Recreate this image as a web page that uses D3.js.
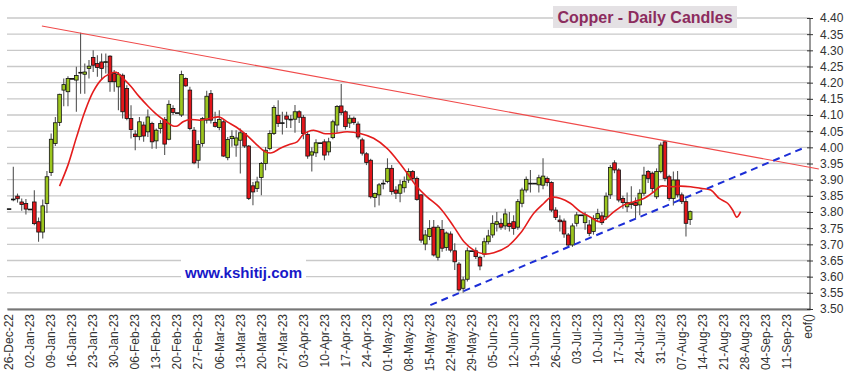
<!DOCTYPE html>
<html><head><meta charset="utf-8">
<script src="https://cdn.jsdelivr.net/npm/d3@7"></script>
<style>
body{margin:0;background:#fff;}
svg{display:block;font-family:"Liberation Sans",Arial,sans-serif;}
</style>
</head><body>
<svg id="chart" width="848" height="383"></svg>
<script>
// ---- data ----
const weekLabels = ["26-Dec-22","02-Jan-23","09-Jan-23","16-Jan-23","23-Jan-23","30-Jan-23","06-Feb-23","13-Feb-23","20-Feb-23","27-Feb-23","06-Mar-23","13-Mar-23","20-Mar-23","27-Mar-23","03-Apr-23","10-Apr-23","17-Apr-23","24-Apr-23","01-May-23","08-May-23","15-May-23","22-May-23","29-May-23","05-Jun-23","12-Jun-23","19-Jun-23","26-Jun-23","03-Jul-23","10-Jul-23","17-Jul-23","24-Jul-23","31-Jul-23","07-Aug-23","14-Aug-23","21-Aug-23","28-Aug-23","04-Sep-23","11-Sep-23"];
const endLabel = "eof()";
const daysPerWeek = 5;
const categoryCount = 191;

const open = [3.810,3.838,3.849,3.831,3.826,3.809,3.831,3.770,3.738,3.826,3.922,4.012,4.077,4.177,4.172,4.213,4.208,4.232,4.226,4.244,
4.278,4.259,4.264,4.264,4.282,4.228,4.187,4.223,4.182,4.089,4.041,4.033,4.069,4.048,4.074,4.020,4.058,4.086,4.025,4.120,
4.107,4.100,4.213,4.177,4.053,3.960,4.012,4.084,4.166,4.077,4.061,4.079,3.968,4.027,4.007,4.022,4.043,4.004,3.881,3.873,
3.907,3.950,3.996,4.043,4.099,4.076,4.097,4.087,4.087,4.110,4.093,4.040,3.976,3.983,4.014,4.017,3.986,4.030,4.069,4.128,
4.110,4.075,4.090,4.072,4.023,3.980,3.960,3.845,3.853,3.889,3.894,3.935,3.868,3.858,3.875,3.899,3.925,3.904,3.853,3.701,
3.724,3.753,3.660,3.746,3.690,3.732,3.680,3.639,3.564,3.592,3.680,3.680,3.660,3.670,3.708,3.729,3.762,3.765,3.757,3.765,
3.770,3.753,3.827,3.868,3.889,3.889,3.884,3.883,3.904,3.891,3.806,3.775,3.772,3.729,3.698,3.765,3.791,3.767,3.760,3.740,
3.780,3.788,3.785,3.853,3.952,3.930,3.842,3.816,3.823,3.829,3.822,3.858,3.925,3.920,3.847,3.925,4.017,3.909,3.842,3.899,
3.853,3.832,3.777];
const high = [3.810,3.940,3.857,3.842,3.840,3.809,3.867,3.783,3.839,3.927,4.043,4.094,4.166,4.213,4.220,4.213,4.249,4.354,4.259,4.270,
4.300,4.285,4.290,4.290,4.285,4.239,4.233,4.228,4.192,4.130,4.053,4.094,4.079,4.117,4.079,4.058,4.084,4.094,4.146,4.130,
4.107,4.237,4.216,4.187,4.063,4.022,4.094,4.175,4.177,4.110,4.115,4.084,4.032,4.053,4.053,4.058,4.045,4.007,3.893,3.909,
3.955,4.001,4.053,4.130,4.146,4.110,4.110,4.100,4.131,4.115,4.100,4.050,4.000,4.025,4.014,4.025,4.030,4.085,4.131,4.196,
4.115,4.100,4.095,4.080,4.030,3.985,3.965,3.860,3.890,3.900,3.966,3.945,3.880,3.900,3.910,3.935,3.930,3.910,3.855,3.744,
3.775,3.775,3.760,3.775,3.740,3.740,3.703,3.645,3.600,3.690,3.680,3.690,3.665,3.720,3.745,3.790,3.800,3.780,3.810,3.800,
3.790,3.840,3.875,3.910,3.930,3.889,3.915,3.966,3.910,3.895,3.815,3.790,3.780,3.735,3.765,3.800,3.791,3.800,3.775,3.790,
3.810,3.800,3.860,3.945,3.960,3.935,3.850,3.860,3.880,3.845,3.870,3.940,3.930,3.925,3.935,4.015,4.022,3.915,3.925,3.927,
3.860,3.840,3.805];
const low = [3.810,3.833,3.829,3.804,3.792,3.809,3.759,3.708,3.718,3.797,3.911,4.004,4.066,4.127,4.127,4.213,4.110,4.166,4.166,4.213,
4.233,4.218,4.208,4.228,4.172,4.172,4.115,4.089,4.084,4.027,3.991,4.022,4.017,4.032,3.996,3.996,4.043,3.976,4.022,4.100,
4.107,4.094,4.187,4.053,3.948,3.935,4.002,4.074,4.074,4.061,4.053,3.971,3.960,4.002,3.971,3.919,3.998,3.837,3.821,3.862,
3.852,3.929,3.991,4.038,4.063,4.040,4.060,4.060,4.045,4.075,4.025,3.965,3.925,3.970,4.014,3.960,3.975,4.025,4.045,4.100,
4.055,4.060,4.070,4.025,3.975,3.945,3.842,3.815,3.820,3.870,3.889,3.853,3.840,3.830,3.860,3.890,3.895,3.835,3.705,3.682,
3.713,3.662,3.650,3.677,3.680,3.675,3.621,3.554,3.550,3.585,3.680,3.655,3.620,3.660,3.700,3.720,3.740,3.745,3.745,3.740,
3.730,3.745,3.815,3.860,3.860,3.889,3.860,3.870,3.880,3.800,3.775,3.740,3.720,3.690,3.692,3.755,3.791,3.745,3.725,3.730,
3.770,3.760,3.775,3.840,3.920,3.830,3.810,3.800,3.810,3.780,3.790,3.850,3.890,3.860,3.840,3.920,3.895,3.835,3.820,3.845,
3.825,3.724,3.760];
const close = [3.810,3.840,3.841,3.823,3.809,3.809,3.764,3.738,3.819,3.909,4.025,4.076,4.164,4.194,4.213,4.213,4.222,4.230,4.233,4.251,
4.254,4.247,4.244,4.265,4.203,4.203,4.226,4.110,4.089,4.055,4.033,4.079,4.035,4.094,4.017,4.053,4.074,4.010,4.133,4.108,
4.107,4.225,4.190,4.058,3.952,4.009,4.089,4.158,4.084,4.065,4.086,3.973,4.024,4.034,4.029,4.045,4.004,3.842,3.862,3.893,
3.950,3.991,4.043,4.123,4.074,4.076,4.087,4.085,4.110,4.093,4.043,3.973,3.986,4.014,4.014,3.976,4.017,4.079,4.126,4.107,
4.064,4.090,4.077,4.032,3.982,3.953,3.847,3.857,3.884,3.889,3.935,3.863,3.858,3.884,3.895,3.925,3.904,3.839,3.713,3.729,
3.749,3.667,3.753,3.688,3.735,3.682,3.646,3.559,3.590,3.680,3.680,3.662,3.633,3.708,3.726,3.765,3.770,3.753,3.794,3.755,
3.749,3.832,3.868,3.901,3.889,3.889,3.906,3.911,3.891,3.806,3.783,3.770,3.732,3.698,3.757,3.791,3.791,3.791,3.734,3.780,
3.795,3.767,3.849,3.938,3.930,3.837,3.829,3.829,3.827,3.820,3.858,3.914,3.904,3.873,3.925,4.007,3.904,3.842,3.899,3.853,
3.832,3.765,3.801];

// moving average (displaced), read at category positions
const maIndex = [12,14,16,18,20,22,24,25.5,27,29,31,33,35,37,39,40,41.5,43,45.5,48,50,52,54,56.5,59,61,62.5,64.5,66.5,68.5,70,72.4,74.8,77.2,80.4,83.5,86.7,89.9,92.3,94.7,97,99.4,102.6,105.8,108.2,110.5,112.9,115.3,118.5,121.6,124.8,127.2,128.8,131.2,133.5,135.9,138.3,140.3,141.5,143.9,146.3,148.6,151,153.4,155,157.4,159.7,162.1,164.5,166.9,168.9,170.9,172.1,173.1,174];
const maValue = [3.880,3.945,4.030,4.110,4.172,4.210,4.228,4.232,4.215,4.188,4.156,4.128,4.103,4.083,4.066,4.066,4.080,4.086,4.084,4.090,4.094,4.078,4.063,4.038,4.007,3.986,3.983,3.997,4.008,4.017,4.040,4.053,4.043,4.043,4.048,4.043,4.028,3.997,3.961,3.920,3.878,3.847,3.811,3.754,3.708,3.682,3.670,3.674,3.693,3.734,3.796,3.827,3.845,3.842,3.827,3.801,3.784,3.770,3.775,3.801,3.822,3.832,3.842,3.863,3.880,3.878,3.880,3.878,3.873,3.868,3.842,3.827,3.806,3.784,3.801];

const resistIndex = [7.8, 192.6];
const resistValue = [4.375, 3.933];
const supportIndex = [100.2, 189.5];
const supportValue = [3.512, 4.001];

const yTicks = [3.50,3.55,3.60,3.65,3.70,3.75,3.80,3.85,3.90,3.95,4.00,4.05,4.10,4.15,4.20,4.25,4.30,4.35,4.40];

const titleText = "Copper - Daily Candles";
const siteText = "www.kshitij.com";

// ---- layout ----
const svg = d3.select("#chart");
const plotL = 7, plotR = 810, plotT = 18, plotB = 309;
const x = d3.scaleLinear().domain([-0.5, categoryCount - 0.5]).range([plotL, plotR]);
const y = d3.scaleLinear().domain([3.5, 4.4]).range([plotB, plotT]);

// gridlines
svg.append("g").selectAll("line").data(yTicks).join("line")
  .attr("x1", plotL).attr("x2", plotR)
  .attr("y1", d => y(d)).attr("y2", d => y(d))
  .attr("stroke", "#c9c9c9").attr("stroke-width", 1.3);

// watermark
svg.append("rect").attr("x", 181).attr("y", 253).attr("width", 125).attr("height", 31).attr("fill", "#fff");
svg.append("text").attr("x", 185).attr("y", 278).text(siteText)
  .attr("font-size", 15).attr("font-weight", "bold").attr("fill", "#1818c8");

// bottom axis
const xAxis = d3.axisBottom(x).tickValues([]).tickSize(0);
const gx = svg.append("g").attr("transform", `translate(0,${plotB})`).call(xAxis);
gx.select(".domain").attr("stroke", "#777").attr("stroke-width", 2);

const labelData = weekLabels.map((t, k) => ({t, i: k * daysPerWeek})).concat([{t: endLabel, i: categoryCount - 1}]);
svg.append("g").selectAll("text").data(labelData).join("text")
  .attr("transform", d => `translate(${x(d.i)},${plotB + 5}) rotate(-90)`)
  .attr("text-anchor", "end").attr("dy", "0.35em")
  .attr("font-size", 12).attr("fill", "#333").text(d => d.t);

// right axis
const yAxis = d3.axisRight(y).tickValues(yTicks).tickFormat(d3.format(".2f")).tickSize(3).tickPadding(7);
const gy = svg.append("g").attr("transform", `translate(${plotR},0)`).call(yAxis);
gy.select(".domain").attr("stroke", "#333").attr("d", `M0,${plotT}V${plotB}`);
gy.selectAll(".tick line").attr("x1", -3).attr("x2", 3).attr("stroke", "#333");
gy.selectAll(".tick text").attr("font-size", 12).attr("fill", "#333").attr("font-family", "Liberation Sans, Arial, sans-serif");

// candles
const candles = open.map((o, i) => ({i, o, h: high[i], l: low[i], c: close[i]}));
const bw = 3.6;
const cg = svg.append("g");
cg.selectAll("line").data(candles).join("line")
  .attr("x1", d => x(d.i)).attr("x2", d => x(d.i))
  .attr("y1", d => y(d.h)).attr("y2", d => y(d.l))
  .attr("stroke", "#555").attr("stroke-width", 1.1);
cg.selectAll("rect").data(candles).join("rect")
  .attr("x", d => x(d.i) - bw / 2).attr("width", bw)
  .attr("y", d => y(Math.max(d.o, d.c)))
  .attr("height", d => Math.max(0.8, Math.abs(y(d.o) - y(d.c))))
  .attr("fill", d => d.c > d.o ? "#9cc61e" : (d.c < d.o ? "#e3161b" : "#111"))
  .attr("stroke", "#111").attr("stroke-width", 0.8);

// moving average
const maPts = maIndex.map((i, k) => [x(i), y(maValue[k])]);
svg.append("path").attr("d", d3.line().curve(d3.curveCatmullRom)(maPts))
  .attr("fill", "none").attr("stroke", "#e41c1c").attr("stroke-width", 1.6);

// trend lines
svg.append("line")
  .attr("x1", x(resistIndex[0])).attr("y1", y(resistValue[0]))
  .attr("x2", x(resistIndex[1])).attr("y2", y(resistValue[1]))
  .attr("stroke", "#f04a4a").attr("stroke-width", 1.1);
svg.append("line")
  .attr("x1", x(supportIndex[0])).attr("y1", y(supportValue[0]))
  .attr("x2", x(supportIndex[1])).attr("y2", y(supportValue[1]))
  .attr("stroke", "#1c2ed6").attr("stroke-width", 2).attr("stroke-dasharray", "7,5");

// title
svg.append("rect").attr("x", 553).attr("y", 6).attr("width", 184).attr("height", 22).attr("fill", "#e4e1e4");
svg.append("text").attr("x", 645).attr("y", 23).attr("text-anchor", "middle")
  .attr("font-size", 16).attr("font-weight", "bold").attr("fill", "#8c2c5e").text(titleText);
</script>
</body></html>
